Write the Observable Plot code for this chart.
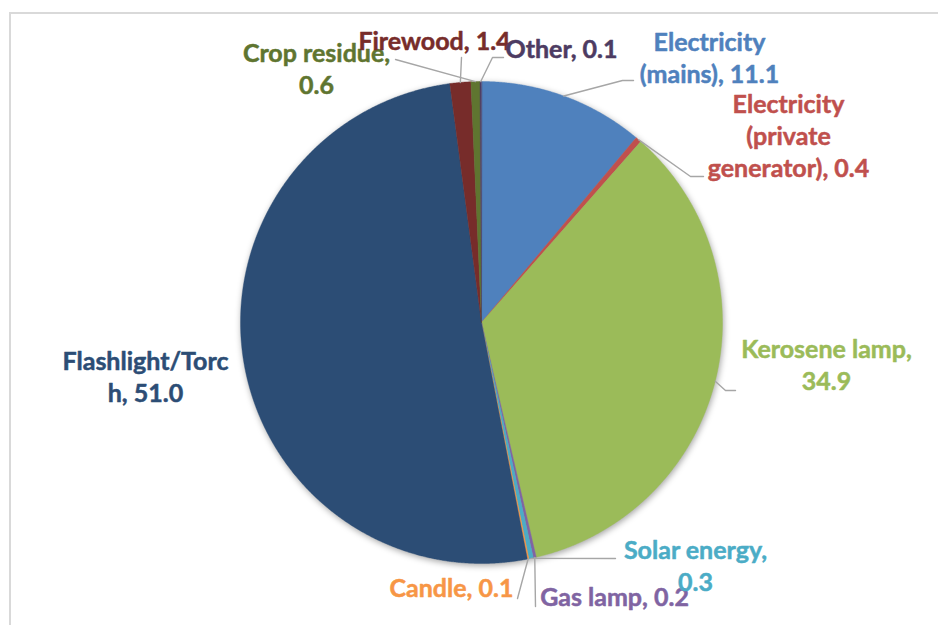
<!DOCTYPE html>
<html><head><meta charset="utf-8">
<script src="https://cdn.jsdelivr.net/npm/d3@7"></script>
<script src="https://cdn.jsdelivr.net/npm/@observablehq/plot@0.6"></script>
<style>
body{margin:0;background:#fff;}
#wrap{position:relative;width:938px;height:625px;overflow:hidden;background:#fff;}
#border{position:absolute;left:9px;top:12px;width:2000px;height:2000px;border-top:2px solid #D9D9D9;border-left:2px solid #D9D9D9;pointer-events:none;}
</style></head>
<body><div id="wrap"><div id="border"></div></div>
<script>
// ---- data ----
const categories = ["Electricity (mains)", "Electricity (private generator)", "Kerosene lamp", "Gas lamp", "Solar energy", "Candle", "Flashlight/Torch", "Firewood", "Crop residue", "Other"];
const values = [11.1, 0.4, 34.9, 0.2, 0.3, 0.1, 51.0, 1.4, 0.6, 0.1];
const labelNames = ["Electricity\n(mains)", "Electricity\n(private\ngenerator)", "Kerosene lamp", "Gas lamp", "Solar energy", "Candle", "Flashlight/Torc\nh", "Firewood", "Crop residue", "Other"];
const valueBreak = [false, false, true, false, true, false, false, false, true, false];
const colors = ["#4F81BD", "#C0504D", "#9BBB59", "#8064A2", "#4BACC6", "#F79646", "#2C4D75", "#772C2A", "#5F7530", "#4D3B62"];

// ---- layout (pixels) ----
const W = 938, H = 625, cx = 481, cy = 322, R = 241;
const labelX = [709, 788, 826, 614, 695, 451, 145, 434, 316, 561];
const labelY = [56, 134, 363, 595, 564, 586, 375, 39, 67, 47];
const leaderPts = [
  [[622, 80], [633, 80]],
  [[690, 176], [703, 176]],
  [[725, 390], [735, 390]],
  [[535, 606]],
  [[615, 558]],
  [[517, 598]],
  null,
  [[461, 57]],
  [[395, 59]],
  [[492, 57], [503, 57]]
];
const textOrder = [0, 1, 2, 3, 4, 5, 6, 8, 7, 9];

const u = px => (px - cx) / R;
const v = py => (cy - py) / R;

const total = d3.sum(values);
let cum = 0;
const slices = values.map((val, i) => {
  const a0 = cum / total * 2 * Math.PI;
  cum += val;
  const a1 = cum / total * 2 * Math.PI;
  return {i, name: categories[i], a0, a1, mid: (a0 + a1) / 2, color: colors[i]};
});

const piePts = [];
for (const s of slices) {
  piePts.push({name: s.name, color: s.color, x: 0, y: 0});
  const n = Math.max(2, Math.ceil((s.a1 - s.a0) / 0.004));
  for (let k = 0; k <= n; k++) {
    const a = s.a0 + (s.a1 - s.a0) * k / n;
    piePts.push({name: s.name, color: s.color, x: Math.sin(a), y: Math.cos(a)});
  }
}

const leaders = [];
slices.forEach((s, i) => {
  if (!leaderPts[i]) return;
  leaders.push({name: s.name, x: Math.sin(s.mid), y: Math.cos(s.mid)});
  for (const [px, py] of leaderPts[i]) leaders.push({name: s.name, x: u(px), y: v(py)});
});

const labels = textOrder.map(i => ({
  text: labelNames[i] + "," + (valueBreak[i] ? "\n" : " ") + values[i].toFixed(1),
  x: u(labelX[i]), y: v(labelY[i]), color: colors[i]
}));

const chart = Plot.plot({
  width: W, height: H, margin: 0,
  style: {background: "transparent", overflow: "visible"},
  x: {domain: [u(0), u(W)], range: [0, W], axis: null},
  y: {domain: [v(H), v(0)], range: [H, 0], axis: null},
  color: {type: "identity"},
  marks: [
    Plot.line(piePts, {x: "x", y: "y", z: "name", fill: "color", stroke: "color", strokeWidth: 0.4, curve: "linear-closed"}),
    Plot.line(leaders, {x: "x", y: "y", z: "name", stroke: "#A6A6A6", strokeWidth: 1.4, curve: "linear"}),
    Plot.text(labels, {x: "x", y: "y", text: "text", fill: "color", stroke: "color", strokeWidth: 0.5, fontSize: 25, fontWeight: "bold", fontFamily: "Lato, 'Open Sans', sans-serif", lineHeight: 1.28, textAnchor: "middle", lineAnchor: "middle"})
  ]
});
chart.style.position = "absolute";
chart.style.left = "0px";
chart.style.top = "0px";
const lineGroups = chart.querySelectorAll('g[aria-label="line"]');
if (lineGroups[0]) lineGroups[0].setAttribute("style", "filter: drop-shadow(1px 2px 3px rgba(0,0,0,0.35))");
document.getElementById("wrap").appendChild(chart);
</script>
</body></html>
